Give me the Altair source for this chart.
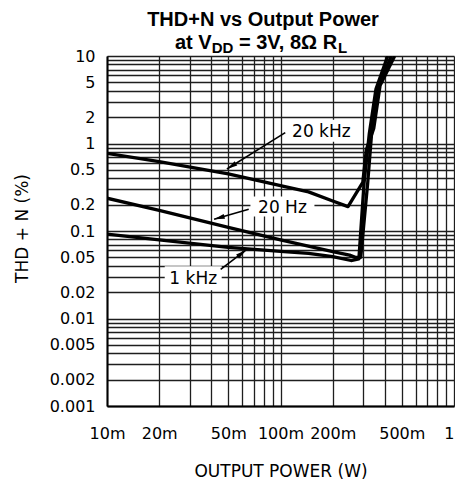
import math
import json
import altair as alt
import pandas as pd

# ---------------- data ----------------
series_names = ["20 kHz", "20 Hz", "1 kHz"]

p_20khz = [0.01, 0.02, 0.05, 0.1, 0.145, 0.2, 0.245, 0.298, 0.312, 0.345, 0.375, 0.455]
thd_20khz = [0.77, 0.62, 0.45, 0.33, 0.28, 0.22, 0.19, 0.36, 0.84, 1.5, 4.6, 10]

p_20hz = [0.01, 0.02, 0.05, 0.1, 0.2, 0.25, 0.27, 0.29, 0.318, 0.335, 0.365, 0.435]
thd_20hz = [0.237, 0.172, 0.11, 0.079, 0.058, 0.053, 0.05, 0.05, 0.35, 1.3, 4.4, 10]

p_1khz = [0.01, 0.02, 0.05, 0.1, 0.145, 0.2, 0.255, 0.283, 0.303, 0.325, 0.355, 0.415]
thd_1khz = [0.092, 0.079, 0.065, 0.0585, 0.0556, 0.051, 0.046, 0.048, 0.35, 1.3, 4.2, 10]

# axis ticks / labels
x_tick_values = [0.01, 0.02, 0.05, 0.1, 0.2, 0.5, 1]
x_tick_labels = ["10m", "20m", "50m", "100m", "200m", "500m", "1"]
y_tick_values = [0.001, 0.002, 0.005, 0.01, 0.02, 0.05, 0.1, 0.2, 0.5, 1, 2, 5, 10]
y_tick_labels = ["0.001", "0.002", "0.005", "0.01", "0.02", "0.05", "0.1", "0.2",
                 "0.5", "1", "2", "5", "10"]

# annotations (data coordinates)
label_text = ["20 kHz", "20 Hz", "1 kHz"]
label_p = [0.172, 0.1026, 0.0314]
label_thd = [1.40, 0.19, 0.0288]
arrow_start_p = [0.1065, 0.0656, 0.0452]
arrow_start_thd = [1.33, 0.177, 0.0365]
arrow_tip_p = [0.0491, 0.0414, 0.0634]
arrow_tip_thd = [0.511, 0.136, 0.0607]

# ---------------- build tables ----------------
rows = []
for name, ps, ys_ in zip(series_names, [p_20khz, p_20hz, p_1khz],
                         [thd_20khz, thd_20hz, thd_1khz]):
    for i, (p, t) in enumerate(zip(ps, ys_)):
        rows.append({"series": name, "i": i, "p": p, "thd": t})
curves = pd.DataFrame(rows)

x_grid = [round(k * 10 ** e, 6) for e in (-2, -1) for k in range(1, 10)] + [1]
y_grid = [round(k * 10 ** e, 6) for e in (-3, -2, -1, 0) for k in range(1, 10)] + [10]

W, H = 347, 350
px_per_dec_x = W / 2.0
px_per_dec_y = H / 4.0

def head_angle(sp, st, tp, tt):
    dx = px_per_dec_x * (math.log10(tp) - math.log10(sp))
    dy = -px_per_dec_y * (math.log10(tt) - math.log10(st))
    return math.degrees(math.atan2(dx, -dy)) % 360

arrows = pd.DataFrame({
    "p": arrow_start_p, "thd": arrow_start_thd,
    "p2": arrow_tip_p, "thd2": arrow_tip_thd,
})
arrows["angle"] = [head_angle(a, b, c, d) for a, b, c, d in
                   zip(arrow_start_p, arrow_start_thd, arrow_tip_p, arrow_tip_thd)]

box_w = [70, 64, 57]
box_h = [22, 20, 24]
def rect_path(w, h):
    a = h / w
    return f"M-1,-{a:.4f}L1,-{a:.4f}L1,{a:.4f}L-1,{a:.4f}Z"

labels = pd.DataFrame({
    "text": label_text, "p": label_p, "thd": label_thd,
    "shape": [rect_path(w, h) for w, h in zip(box_w, box_h)],
    "size": [w * w for w in box_w],
})

# ---------------- scales / axes ----------------
xs = alt.Scale(type="log", domain=[0.01, 1], nice=False)
ys = alt.Scale(type="log", domain=[0.001, 10], nice=False)

x_expr = (f"indexof({json.dumps(x_tick_values)}, datum.value) >= 0 ? "
          f"{json.dumps(x_tick_labels)}[indexof({json.dumps(x_tick_values)}, datum.value)] : ''")
y_expr = (f"indexof({json.dumps(y_tick_values)}, datum.value) >= 0 ? "
          f"{json.dumps(y_tick_labels)}[indexof({json.dumps(y_tick_values)}, datum.value)] : ''")

common_axis = dict(
    ticks=False, tickSize=0, domainColor="black", domainWidth=2,
    grid=True, gridColor="#1e1e1e", gridWidth=1.3, gridOpacity=1,
    labelFont="DejaVu Sans", labelFontSize=16, labelColor="black",
    labelOverlap=False, labelFlush=False, labelBound=False,
    titleFont="DejaVu Sans", titleFontSize=17, titleFontWeight="normal",
    titleColor="black",
)

x_axis = alt.Axis(values=x_grid, labelExpr=x_expr, labelPadding=19,
                  labelAlign={"condition": {"test": "datum.value >= 1", "value": "right"},
                              "value": "center"},
                  title="OUTPUT POWER (W)", titleY=70, titleBaseline="alphabetic",
                  titleAlign="center", **common_axis)
y_axis = alt.Axis(values=y_grid, labelExpr=y_expr, labelPadding=12,
                  title="THD + N (%)", titleX=-80, titleY=172, titleAngle=270,
                  titleAlign="center", titleBaseline="alphabetic", **common_axis)

lines = alt.Chart(curves).mark_line(color="black", strokeWidth=3.3,
                                    strokeJoin="round", clip=True).encode(
    x=alt.X("p:Q", scale=xs, axis=x_axis),
    y=alt.Y("thd:Q", scale=ys, axis=y_axis),
    detail="series:N",
    order="i:Q",
)

boxes = alt.Chart(labels).mark_point(filled=True, color="white", opacity=1,
                                     strokeWidth=0).encode(
    x=alt.X("p:Q", scale=xs),
    y=alt.Y("thd:Q", scale=ys),
    shape=alt.Shape("shape:N", scale=None, legend=None),
    size=alt.Size("size:Q", scale=None, legend=None),
)

texts = alt.Chart(labels).mark_text(font="DejaVu Sans", fontSize=17, color="black",
                                    align="center", baseline="middle", dy=1).encode(
    x=alt.X("p:Q", scale=xs),
    y=alt.Y("thd:Q", scale=ys),
    text="text:N",
)

shafts = alt.Chart(arrows).mark_rule(color="black", strokeWidth=1.6).encode(
    x=alt.X("p:Q", scale=xs),
    y=alt.Y("thd:Q", scale=ys),
    x2="p2:Q",
    y2="thd2:Q",
)

heads = alt.Chart(arrows).mark_point(filled=True, color="black", opacity=1,
                                     shape="M0,0L0.5,2.2L-0.5,2.2Z", size=95,
                                     strokeWidth=0).encode(
    x=alt.X("p2:Q", scale=xs, title="OUTPUT POWER (W)"),
    y=alt.Y("thd2:Q", scale=ys, title="THD + N (%)"),
    angle=alt.Angle("angle:Q", scale=None),
)

def title_piece(s, x, y, size, align):
    return alt.Chart(alt.Data(values=[{}])).mark_text(
        text=s, align=align, baseline="alphabetic", font="Liberation Sans",
        fontSize=size, fontWeight="bold", color="black",
    ).encode(x=alt.value(x), y=alt.value(y))

title_layers = [
    title_piece("THD+N vs Output Power", 156, -29.7, 20, "center"),
    title_piece("at V", 68, -7.4, 20, "left"),
    title_piece("DD", 104.7, -3, 15, "left"),
    title_piece("= 3V, 8\u03a9 R", 132, -7.4, 20, "left"),
    title_piece("L", 231, -3, 15, "left"),
]

chart = alt.layer(lines, boxes, texts, shafts, heads, *title_layers).properties(
    width=W, height=H,
    autosize=alt.AutoSizeParams(type="none"),
    padding={"left": 99, "top": 48, "right": 1, "bottom": 75},
    background="white",
).configure_view(stroke=None)

chart.save("out.html", embed_options={"renderer": "svg", "actions": False})
